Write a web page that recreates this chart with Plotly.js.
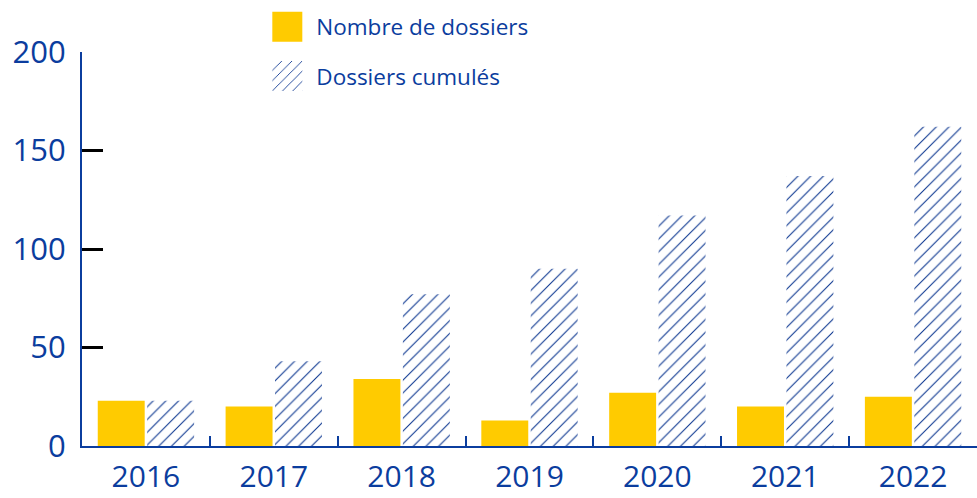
<!DOCTYPE html>
<html>
<head>
<meta charset="utf-8">
<script src="https://cdn.plot.ly/plotly-3.0.1.min.js"></script>
<style>html,body{margin:0;padding:0;background:#fff;}#chart{width:977px;height:498px;}</style>
</head>
<body>
<div id="chart"></div>
<script>
const years = ['2016','2017','2018','2019','2020','2021','2022'];
const nombreDossiers = [23, 20, 34, 13, 27, 20, 25];
const dossiersCumules = [23, 43, 77, 90, 117, 137, 162];
const seriesNames = ['Nombre de dossiers', 'Dossiers cumulés'];
const yTicks = [0, 50, 100, 150, 200];

const BLUE = '#0b3d9e';
const YELLOW = '#ffcb00';
const FONT = 'Open Sans, DejaVu Sans, sans-serif';

const traces = [
  {
    type: 'bar', x: years, y: nombreDossiers, name: seriesNames[0],
    legendgroup: 'a',
    marker: {color: YELLOW, line: {width: 0}},
    hoverinfo: 'skip'
  },
  {
    type: 'bar', x: years, y: dossiersCumules, name: seriesNames[1],
    legendgroup: 'b',
    marker: {color: '#ffffff', line: {width: 0},
      pattern: {shape: '/', fgcolor: '#0a3590', fgopacity: 1, bgcolor: '#ffffff', size: 9, solidity: 0.12}},
    hoverinfo: 'skip'
  }
];

const layout = {
  width: 977, height: 498,
  margin: {l: 82, r: 0, t: 52, b: 52, autoexpand: false},
  paper_bgcolor: '#fff', plot_bgcolor: '#fff',
  barmode: 'group', bargap: 0.227, bargroupgap: 0.05,
  font: {family: FONT, color: BLUE},
  showlegend: true,
  legend: {
    x: 0.197, y: 1.118, xanchor: 'left', yanchor: 'top',
    font: {size: 22.5, color: BLUE, family: FONT},
    traceorder: 'grouped', tracegroupgap: 17,
    bgcolor: 'rgba(0,0,0,0)', itemwidth: 48
  },
  xaxis: {
    type: 'category',
    showline: true, linecolor: BLUE, linewidth: 2,
    ticks: 'inside', tickson: 'boundaries', ticklen: 10, tickcolor: BLUE, tickwidth: 2,
    tickfont: {size: 30, color: BLUE, family: FONT},
    tickangle: 0, ticklabelstandoff: 3,
    showgrid: false, zeroline: false, fixedrange: true
  },
  yaxis: {
    range: [0, 200], tickvals: yTicks,
    showline: true, linecolor: BLUE, linewidth: 2,
    ticks: 'inside', ticklen: 21, tickcolor: '#000', tickwidth: 3,
    tickfont: {size: 31, color: BLUE, family: FONT},
    ticklabelstandoff: 8,
    showgrid: false, zeroline: false, fixedrange: true
  }
};

Plotly.newPlot('chart', traces, layout, {staticPlot: true, displayModeBar: false}).then(function(gd){
  function bigSymbols(){
    document.querySelectorAll('#chart .legendpoints path').forEach(function(p){
      p.setAttribute('d', 'M15,15H-15V-15H15Z');
      p.style.strokeWidth = '0';
    });
  }
  bigSymbols();
  gd.on('plotly_afterplot', bigSymbols);
});
</script>
</body>
</html>
